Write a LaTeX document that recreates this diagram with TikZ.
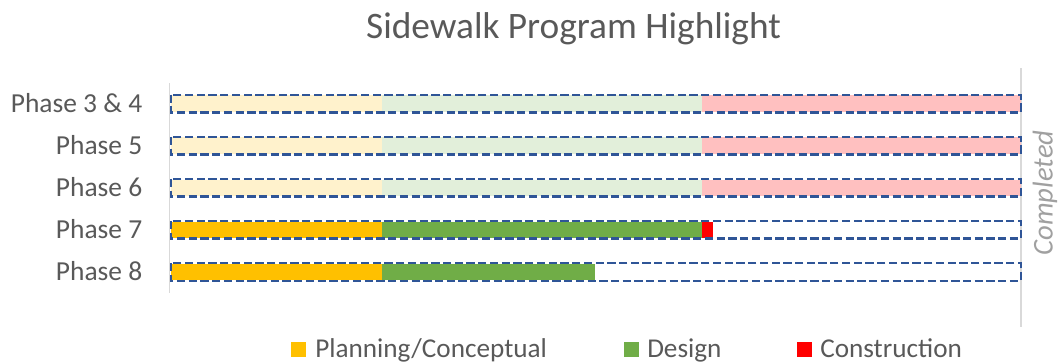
\documentclass[tikz,border=0pt]{standalone}
\usepackage{fontspec}
\setmainfont{Carlito}
\definecolor{txt}{HTML}{595959}
\definecolor{plan}{HTML}{FFC000}
\definecolor{des}{HTML}{70AD47}
\definecolor{cons}{HTML}{FF0000}
\definecolor{planpale}{HTML}{FFF2CC}
\definecolor{despale}{HTML}{E2EFDA}
\definecolor{conspale}{HTML}{FFC0C0}
\definecolor{frame}{HTML}{2F5597}
\definecolor{axisgray}{HTML}{D9D9D9}
\definecolor{compl}{HTML}{A0A0A0}
\tikzset{
  rowlabel/.style={anchor=base east, inner sep=0pt, text=txt, font=\fontsize{20.6}{24}\selectfont},
  legtext/.style={anchor=base west, inner sep=0pt, text=txt, font=\fontsize{20.4}{24}\selectfont},
  titletext/.style={anchor=base, inner sep=0pt, text=txt, font=\fontsize{28}{32}\selectfont},
  dashframe/.style={draw=frame, line width=1.8pt, dash pattern=on 6.2pt off 2.6pt},
  axisline/.style={draw=axisgray, line width=1.2pt},
  legbox/.style={minimum size=11.25pt, inner sep=0pt, anchor=south west},
}
\begin{document}
\begin{tikzpicture}[x=0.75pt,y=-0.75pt]
\useasboundingbox (0,0) rectangle (1058,362);
% title
\node[titletext] (title) at (573.5,38) {Sidewalk Program Highlight};
% axis lines
\draw[axisline] (169.5,83) -- (169.5,293);
\draw[axisline] (1021,68) -- (1021,327);
% rows
\foreach \c/\lab/\nm in {103.5/{Phase 3 \& 4}/p34, 145.6/{Phase 5}/p5, 187.7/{Phase 6}/p6, 229.8/{Phase 7}/p7, 271.9/{Phase 8}/p8}{
  \node[rowlabel] (\nm) at (142.5,\c+8.6) {\lab};
}
% completed phases (pale)
\foreach \c in {103.5,145.6,187.7}{
  \fill[planpale] (171,\c-8.2) rectangle (382,\c+8.2);
  \fill[despale] (382,\c-8.2) rectangle (702,\c+8.2);
  \fill[conspale] (702,\c-8.2) rectangle (1021,\c+8.2);
}
% phase 7
\fill[plan] (171,229.8-8.2) rectangle (382,229.8+8.2);
\fill[des] (382,229.8-8.2) rectangle (702,229.8+8.2);
\fill[cons] (702,229.8-8.2) rectangle (712.5,229.8+8.2);
% phase 8
\fill[plan] (171,271.9-8.2) rectangle (382,271.9+8.2);
\fill[des] (382,271.9-8.2) rectangle (595,271.9+8.2);
% dashed frames
\foreach \c in {103.5,145.6,187.7,229.8,271.9}{
  \draw[dashframe] (171,\c-8.8) rectangle (1021,\c+8.8);
}
% completed label
\node[rotate=90, text=compl, inner sep=0pt, font=\fontsize{21.5}{24}\selectfont\itshape] (completed) at (1045,193) {Completed};
% legend
\node[legbox, fill=plan] (lg1) at (291,357) {};
\node[legtext] (lt1) at (315,357) {Planning/Conceptual};
\node[legbox, fill=des] (lg2) at (623.5,357) {};
\node[legtext] (lt2) at (647,357) {Design};
\node[legbox, fill=cons] (lg3) at (796.5,357) {};
\node[legtext] (lt3) at (820,357) {Construction};
\end{tikzpicture}
\end{document}
